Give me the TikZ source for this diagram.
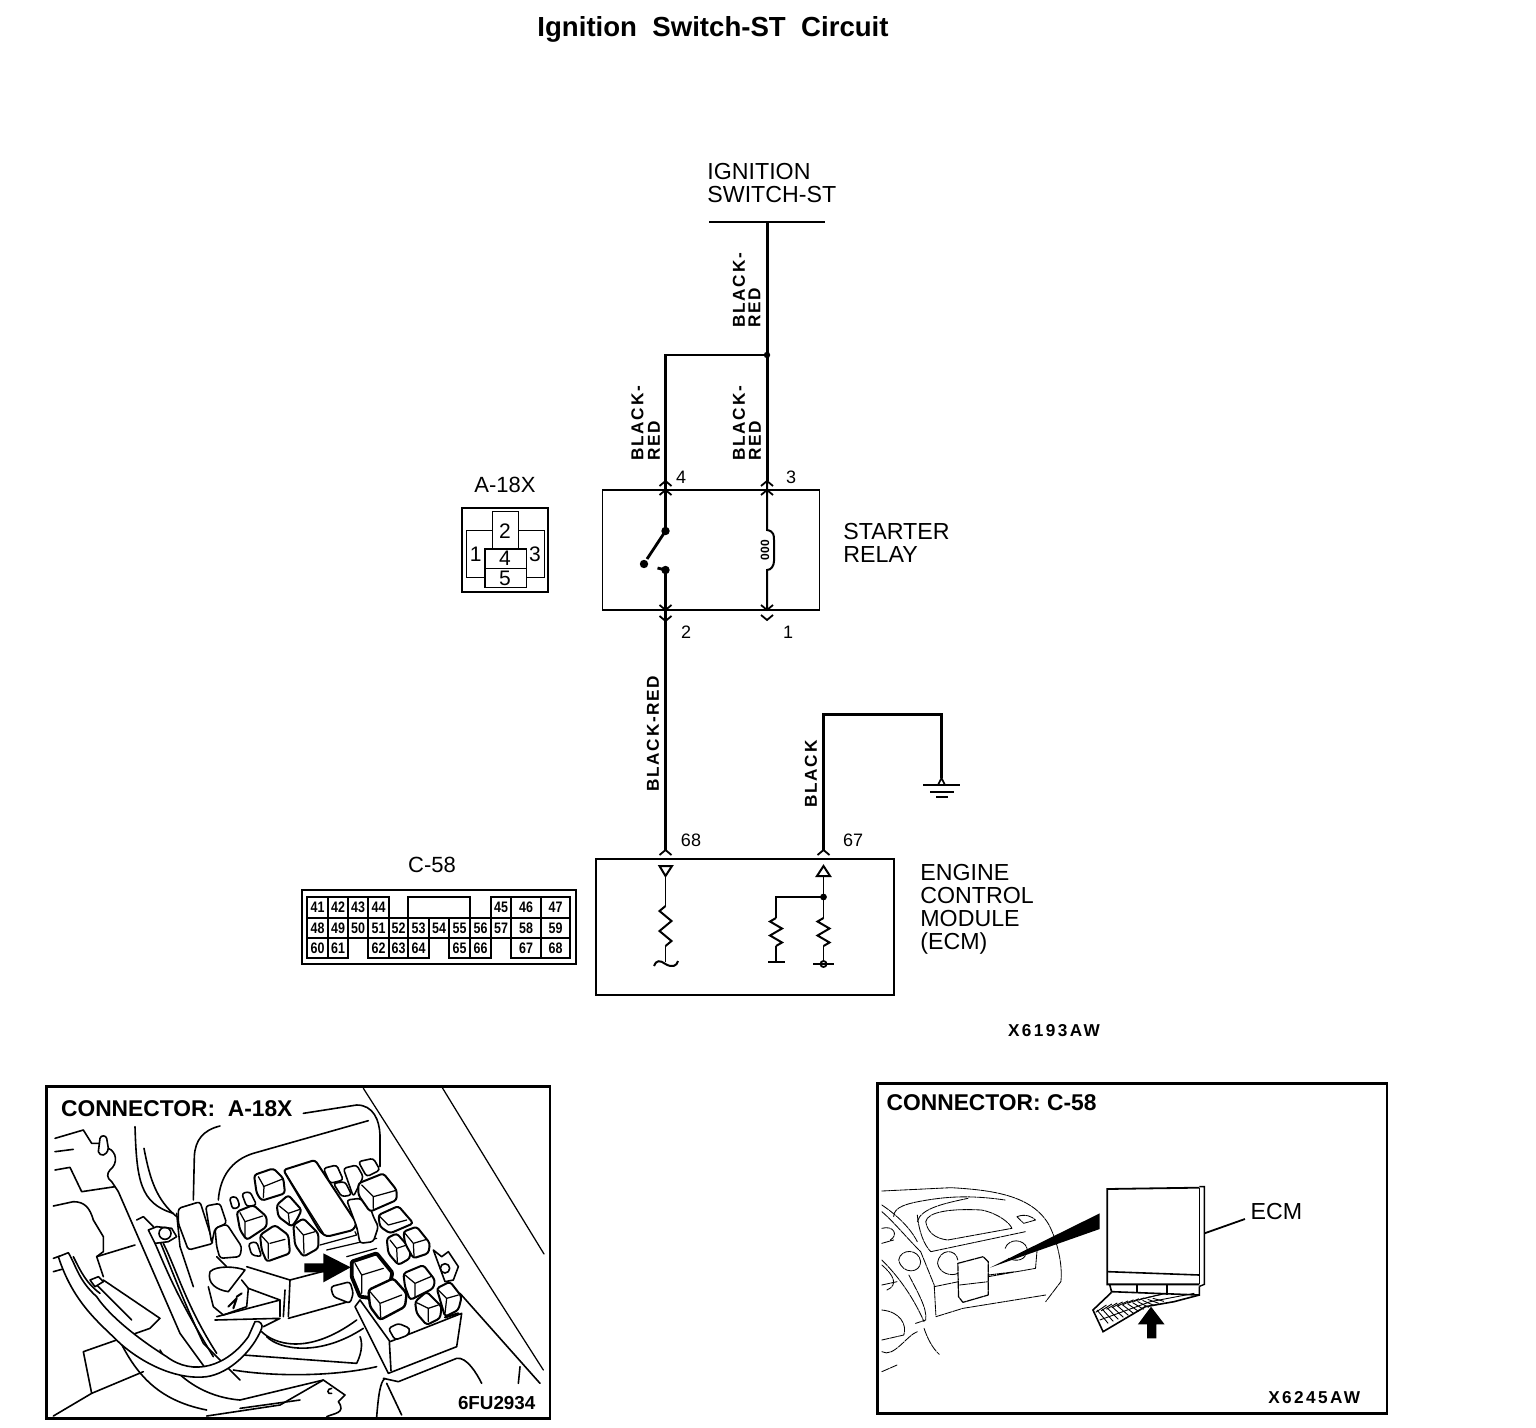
\documentclass[tikz,border=0pt]{standalone}
\usepackage{fontspec}
\setmainfont{Liberation Sans}
\usetikzlibrary{calc}
\newfontfamily\spacedfont[LetterSpace=10]{Liberation Sans}
\newfontfamily\codefont[LetterSpace=14]{Liberation Sans}
\tikzset{
 box/.style={draw=black,line width=.9pt,fill=none,rectangle,inner sep=0pt},
 wire/.style={line width=1.4pt,line join=miter},
 thinw/.style={line width=.9pt},
 lab/.style={font=\fontsize{11.6}{12}\selectfont,inner sep=0pt},
 labl/.style={lab,anchor=west},
 wirelab/.style={font=\spacedfont\bfseries\fontsize{8.6}{9}\selectfont,rotate=90,anchor=west,inner sep=0pt},
 pin/.style={font=\fontsize{9}{9}\selectfont,inner sep=0pt},
 cellt/.style={font=\bfseries\fontsize{7.6}{8}\selectfont,inner sep=0pt,xscale=.82},
 ln/.style={line width=.62pt,line join=round,line cap=round},
 hv/.style={line width=.8pt,line join=round,line cap=round},
 relaypart/.style={line width=.8pt,rounded corners=1.5pt,line join=round,fill=white},
 dashl/.style={line width=.42pt,line join=round,line cap=round,dash pattern=on 4pt off .5pt},
 caption/.style={font=\bfseries\fontsize{11.4}{12}\selectfont,inner sep=0pt},
 code/.style={font=\codefont\bfseries\fontsize{8.6}{9}\selectfont,inner sep=0pt},
 digit/.style={font=\fontsize{10.5}{11}\selectfont,inner sep=0pt},
}
\newcommand\chvup[2]{\draw[line width=.9pt] ({#1-6},{#2+5}) -- (#1,#2) -- ({#1+6},{#2+5});}
\newcommand\chvdn[2]{\draw[line width=.9pt] ({#1-6},{#2-5}) -- (#1,#2) -- ({#1+6},{#2-5});}
\newcommand\zig[3]{% x, top y, bottom y
 \draw[line width=1pt] (#1,#2) -- ({#1-6},{#2+.125*(#3-#2)}) -- ({#1+6},{#2+.375*(#3-#2)}) -- ({#1-6},{#2+.625*(#3-#2)}) -- ({#1+6},{#2+.875*(#3-#2)}) -- (#1,#3);}
\newcommand\cellbox[5]{\draw[line width=.65pt] (#1,#3) rectangle (#2,#4) node[midway,cellt,name=c#5]{#5};}
\begin{document}
\begin{tikzpicture}[x=.5pt,y=-.5pt]
\useasboundingbox (0,0) rectangle (1536,1428);
% ---------- titles
\node[font=\bfseries\fontsize{13.8}{14}\selectfont,inner sep=0pt] (title) at (713,29) {Ignition\ \ Switch-ST\ \ Circuit};
\node[labl] (ign1) at (707,172) {IGNITION};
\node[labl] (ign2) at (707,195) {SWITCH-ST};
% ---------- boxes
\node[box,minimum width=108.5pt,minimum height=60pt] (relay) at (711,550) {};
\node[box,minimum width=149pt,minimum height=68pt,line width=1pt] (ecm) at (745,927) {};
\node[labl] (st1) at (843,532) {STARTER};
\node[labl] (st2) at (843,555) {RELAY};
\node[labl] (e1) at (920,873) {ENGINE};
\node[labl] (e2) at (920,896) {CONTROL};
\node[labl] (e3) at (920,919) {MODULE};
\node[labl] (e4) at (920,943) {(ECM)};
% ---------- coordinates
\coordinate (busL) at (709,222);
\coordinate (busR) at (825,222);
\coordinate (busM) at (767,222);
\coordinate (jn) at (767,355);
\coordinate (jl) at (665.5,355);
\coordinate (p4) at (665.5,481);
\coordinate (p3) at (767,481);
\coordinate (sw1) at (665.5,531);
\coordinate (sw2) at (644,564);
\coordinate (sw3) at (665.5,570);
\coordinate (p2) at (665.5,620);
\coordinate (p1) at (767,610);
\coordinate (p68) at (665.5,850);
\coordinate (p67) at (823.5,850);
\coordinate (gt) at (823.5,714.5);
\coordinate (gr) at (941.5,714.5);
\coordinate (gb) at (941.5,778);
% ---------- wires
\draw[thinw] (busL) -- (busR);
\draw[wire,line width=1.5pt] (busM) -- (jn) -- (p3);
\draw[wire] (jn) -- (jl) -- (p4) -- (sw1);
\fill (jn) circle (3.2);
\fill (sw1) circle (4.2);
\fill (sw2) circle (4.2);
\fill (sw3) circle (4.2);
\draw[wire] (sw1) -- ($(sw2)+(3,-5)$);
\draw[wire] (sw3) -- ($(sw3)+(-8,-2)$);
\draw[wire] (sw3) -- (p2);
\draw[wire,line width=1.15pt] (p2) -- (p68);
\draw[wire,line width=1pt] (p3) -- (767,530) .. controls (774,531) and (774,536) .. (774,540) -- (774,561) .. controls (774,566) and (771,570) .. (767,570) -- (p1);
\node[font=\bfseries\fontsize{6}{6}\selectfont,rotate=90,inner sep=0pt] (coil) at (765,550) {000};
\chvup{665.5}{481}\chvup{665.5}{490}\chvup{767}{481}\chvup{767}{490}
\chvdn{665.5}{610}\chvdn{665.5}{621}\chvdn{767}{610}\chvdn{767}{620}
\draw[line width=1.1pt] (p67) -- (gt) -- (gr) -- (gb);
\draw[line width=.8pt] (gb) -- (938,785) -- (945,785) -- cycle;
\draw[line width=1.1pt] (923,785) -- (960,785) (930,792) -- (954,792) (936,797) -- (948,797);
% ECM interior
\chvup{665.5}{850}\chvup{823.5}{850}
\draw[line width=1pt] (659.5,866) -- (672,866) -- (665.5,876) -- cycle;
\draw[line width=1pt] (817,876) -- (830,876) -- (823.5,866) -- cycle;
\draw[thinw] (665.5,876) -- (665.5,906);
\zig{665.5}{906}{946}
\draw[thinw] (665.5,946) -- (665.5,962);
\draw[line width=1pt] (654,966) .. controls (656,960) and (660,960) .. (665.5,964) .. controls (672,968) and (677,966) .. (678,961);
\draw[thinw] (823.5,876) -- (823.5,918);
\fill (823.5,897) circle (3.4);
\draw[thinw] (823.5,897) -- (776,897) -- (776,918);
\zig{776}{918}{946}\zig{823.5}{918}{946}
\draw[thinw] (776,946) -- (776,962); \draw[line width=1.1pt] (768,962) -- (785,962);
\draw[thinw] (823.5,946) -- (823.5,961);
\draw[line width=.9pt] (823.5,964) circle (3); \draw[line width=.8pt] (813,964) -- (834,964);
% ---------- wire labels
\node[wirelab] (w1a) at (739,328) {BLACK-};
\node[wirelab] (w1b) at (754.5,328) {RED};
\node[wirelab] (w2a) at (637.5,461) {BLACK-};
\node[wirelab] (w2b) at (654,461) {RED};
\node[wirelab] (w3a) at (739,461) {BLACK-};
\node[wirelab] (w3b) at (755,461) {RED};
\node[wirelab] (w4) at (653,792) {BLACK-RED};
\node[wirelab] (w5) at (811,808) {BLACK};
\node[pin] (n4) at (681,477) {4};
\node[pin] (n3) at (791,477) {3};
\node[pin] (n2) at (686,632) {2};
\node[pin] (n1) at (788,632) {1};
\node[pin] (n68) at (691,840) {68};
\node[pin] (n67) at (853,840) {67};
% ---------- A-18X connector
\node[lab,font=\fontsize{11}{11}\selectfont] (a18) at (505,485) {A-18X};
\begin{scope}[shift={(440,460)},x=.16667pt,y=-.16667pt]
\draw[line width=1.1pt] (65,143) rectangle (325,395);
\draw[line width=.55pt] (157,211) -- (79,211) -- (79,353) -- (135,353);
\draw[line width=.55pt] (235,211) -- (313,211) -- (313,353) -- (259,353);
\draw[line width=.55pt] (157,267) -- (157,155) -- (235,155) -- (235,267);
\draw[line width=.75pt] (135,267) rectangle (259,325);
\draw[line width=.75pt] (135,325) rectangle (259,383);
\node[digit] (k2) at (195,212) {2};
\node[digit] (k1) at (107,284) {1};
\node[digit] (k3) at (285,284) {3};
\node[digit] (k4) at (195,294) {4};
\node[digit] (k5) at (195,356) {5};
\end{scope}
% ---------- C-58 connector
\node[lab,font=\fontsize{11}{11}\selectfont] (c58) at (432,865) {C-58};
\draw[line width=1.2pt] (302,890) rectangle (576,964);
\cellbox{307}{328}{897}{918}{41}\cellbox{328}{348}{897}{918}{42}\cellbox{348}{368}{897}{918}{43}\cellbox{368}{389}{897}{918}{44}
\draw[line width=.65pt] (408,897) rectangle (470,918);
\cellbox{491}{511}{897}{918}{45}\cellbox{511}{541}{897}{918}{46}\cellbox{541}{570}{897}{918}{47}
\cellbox{307}{328}{918}{938}{48}\cellbox{328}{348}{918}{938}{49}\cellbox{348}{368}{918}{938}{50}\cellbox{368}{389}{918}{938}{51}\cellbox{389}{408}{918}{938}{52}\cellbox{408}{429}{918}{938}{53}\cellbox{429}{449}{918}{938}{54}\cellbox{449}{470}{918}{938}{55}\cellbox{470}{491}{918}{938}{56}\cellbox{491}{511}{918}{938}{57}\cellbox{511}{541}{918}{938}{58}\cellbox{541}{570}{918}{938}{59}
\cellbox{307}{328}{938}{958}{60}\cellbox{328}{348}{938}{958}{61}\cellbox{368}{389}{938}{958}{62}\cellbox{389}{408}{938}{958}{63}\cellbox{408}{429}{938}{958}{64}\cellbox{449}{470}{938}{958}{65}\cellbox{470}{491}{938}{958}{66}\cellbox{511}{541}{938}{958}{67}\cellbox{541}{570}{938}{958}{68}
\node[code] (x1) at (1054,1031) {X6193AW};
% ---------- left inset
\begin{scope}[shift={(40,1080)},x=.16667pt,y=-.16667pt]
\draw[line width=1.3pt] (20,20) rectangle (1530,1015);
\node[caption,anchor=west] (capa) at (62,85) {CONNECTOR:\ \ A-18X};
\node[font=\bfseries\fontsize{9.4}{10}\selectfont,inner sep=0pt] (codea) at (1370,968) {6FU2934};
\draw[ln] (970,25) -- (1510,870);
\draw[ln] (1205,20) -- (1512,522);
\draw[hv] (790,100) -- (950,75) .. controls (1000,75) and (1018,120) .. (1020,165) -- (1020,260);
\draw[hv] (985,122) -- (640,220) .. controls (575,240) and (540,290) .. (535,360);
\draw[hv] (540,138) .. controls (490,150) and (465,180) .. (463,230) -- (460,360);
% left mechanical parts
\draw[hv] (45,175) -- (130,150) -- (155,190) -- (178,190);
\draw[hv] (180,175) .. controls (182,165) and (198,165) .. (200,175) -- (205,205) .. controls (200,230) and (180,230) .. (175,215) -- (180,175);
\draw[hv] (205,205) .. controls (230,215) and (235,250) .. (210,270) .. controls (200,280) and (200,295) .. (215,305) -- (235,335);
\draw[hv] (45,215) -- (100,208) (45,270) -- (90,262) -- (125,335) -- (225,320);
\draw[hv] (40,378) -- (100,365) .. controls (135,365) and (150,385) .. (160,420) -- (190,470) -- (190,515) -- (170,530) -- (190,590);
\draw[hv] (170,530) -- (285,495) (40,575) -- (65,568) (40,535) -- (60,528);
\draw[hv] (190,600) -- (360,715) -- (330,745) -- (130,815) -- (155,940) -- (40,1008);
\draw[hv] (155,940) -- (310,875);
% hoses
\draw[hv] (285,140) .. controls (290,300) and (300,370) .. (400,400);
\draw[hv] (312,205) .. controls (330,300) and (350,360) .. (410,410);
\draw[hv] (235,335) -- (320,530) -- (420,760) -- (500,870);
\draw[hv] (290,420) -- (310,410) -- (340,440) .. controls (370,500) and (410,620) .. (490,790) -- (600,900);
\draw[hv] (345,490) .. controls (380,570) and (410,650) .. (520,830);
\draw[hv] (370,490) .. controls (410,570) and (440,680) .. (530,820);
\draw[hv] (170,615) -- (275,720) (220,740) .. controls (280,880) and (350,960) .. (500,990);
\draw[hv] (360,810) .. controls (400,880) and (480,950) .. (600,960) -- (850,900) -- (915,945) -- (895,965) .. controls (920,1000) and (880,1000) .. (860,1010);
\draw[hv] (500,1008) -- (720,975) -- (850,900);
\draw[hv] (875,925) .. controls (860,925) and (860,945) .. (875,940);
\draw[hv] (600,985) -- (780,960);
% central block
\draw[hv] (620,560) -- (750,600) -- (865,570);
\draw[hv] (750,600) -- (745,710) (735,630) -- (730,710);
\draw[hv] (625,625) -- (720,660) -- (720,710);
\draw[hv] (720,660) -- (530,710) (525,720) -- (720,715) -- (670,740) (745,715) -- (925,665);
\draw[hv] (665,755) .. controls (700,790) and (800,830) .. (950,720);
\draw[hv] (680,770) .. controls (720,810) and (840,830) .. (970,745);
\draw[hv] (610,825) -- (950,850) .. controls (970,810) and (965,780) .. (960,770);
\draw[hv] (580,870) .. controls (700,890) and (880,890) .. (1010,860);
\draw[hv] (410,400) -- (420,500) -- (460,620) (530,530) -- (560,560);
\draw[hv,fill=white] (510,575) .. controls (530,555) and (590,560) .. (615,570) -- (565,635) .. controls (530,630) and (500,610) .. (510,575);
\draw[hv] (505,620) -- (520,680) -- (550,705) -- (620,680) -- (625,625) -- (605,600);
\draw[hv,line width=1pt] (565,680) -- (590,655) -- (580,685) (590,650) -- (605,640);
% the hose in front
\draw[hv,fill=white] (55,530) -- (85,518) .. controls (110,560) and (115,600) .. (170,650) .. controls (210,710) and (300,780) .. (380,830) .. controls (460,890) and (560,860) .. (625,770) -- (645,725) .. controls (660,720) and (670,735) .. (665,745) .. controls (640,810) and (570,880) .. (500,890) .. controls (420,900) and (320,860) .. (240,790) .. controls (180,730) and (100,670) .. (55,530);
\draw[hv] (100,530) .. controls (125,580) and (140,610) .. (180,640);
\draw[hv,fill=white] (150,600) -- (175,590) -- (190,605) -- (165,620) -- cycle;
\draw[hv,fill=white] (325,450) -- (350,440) -- (395,445) -- (410,470) -- (385,485) -- (345,490) -- cycle;
\draw[hv] (375,460) circle (18);
% front fuses
\draw[relaypart] (415,385) -- (480,365) -- (520,490) -- (445,510) -- (415,430) -- cycle;
\draw[relaypart] (497,378) -- (540,370) -- (560,430) -- (525,445) -- (515,490) -- cycle;
\draw[relaypart] (525,445) -- (560,432) -- (605,500) -- (600,530) -- (540,535) -- (530,500) -- cycle;
\draw[relaypart] (568,352) -- (590,350) -- (600,380) -- (578,388) -- cycle (605,340) -- (630,335) -- (650,375) -- (620,380) -- cycle;
\draw[relaypart] (625,490) -- (650,485) -- (665,530) -- (635,525) -- cycle;
% fuse-box relays
\draw[relaypart] (850,265) -- (890,255) -- (910,300) -- (870,310) -- cycle (880,310) -- (915,305) -- (935,345) -- (905,350) -- cycle;
\draw[relaypart] (910,265) -- (950,255) -- (970,290) -- (940,350) -- cycle (955,245) -- (1000,235) -- (1020,270) -- (980,290) -- cycle;
\draw[relaypart,line width=1pt] (730,270) -- (825,240) -- (950,430) -- (940,450) -- (860,470) -- (840,455) -- cycle;
\draw[ln] (735,278) -- (850,460) (840,495) -- (950,465) -- (945,455) (860,510) -- (1010,475) (920,530) -- (1010,505);
\draw[relaypart,line width=1pt] (642,285) -- (700,265) -- (730,295) -- (735,340) -- (665,362) -- (650,340) -- cycle;
\draw[ln] (670,320) -- (725,298) (655,290) -- (672,320) -- (670,352);
\draw[relaypart,line width=1pt] (590,395) -- (640,375) -- (680,410) -- (680,440) -- (620,480) -- (600,450) -- cycle;
\draw[ln] (615,425) -- (668,408) (600,398) -- (615,425) -- (615,470);
\draw[relaypart,line width=1pt] (710,375) -- (745,345) -- (785,390) -- (770,420) -- (755,440) -- (715,410) -- cycle;
\draw[ln] (745,400) -- (780,388) (718,378) -- (745,400) -- (748,430);
\draw[relaypart,line width=1pt] (660,465) -- (705,435) -- (745,465) -- (750,520) -- (680,545) -- (665,510) -- cycle;
\draw[ln] (690,490) -- (735,478) (665,468) -- (685,490) -- (685,535);
\draw[relaypart,line width=1pt] (760,435) -- (790,415) -- (835,460) -- (835,505) -- (790,530) -- (765,495) -- cycle;
\draw[ln] (790,465) -- (825,455) (768,440) -- (790,465) -- (792,520);
\draw[relaypart] (920,360) -- (960,355) -- (990,380) -- (1000,410) -- (1015,440) -- (1000,485) -- (960,490) -- (950,440) -- cycle;
\draw[relaypart,line width=1pt] (955,310) -- (1030,280) -- (1070,330) -- (1070,360) -- (990,395) -- (955,345) -- cycle;
\draw[ln] (1000,350) -- (1065,332) (965,315) -- (1000,350) -- (1000,385);
\draw[relaypart,line width=1pt] (1015,405) -- (1075,378) -- (1120,430) -- (1050,460) -- (1020,440) -- cycle;
\draw[ln] (1045,435) -- (1100,420) (1020,410) -- (1045,435);
% fuse box outline (behind its relays)
\draw[hv,fill=white] (945,680) -- (1045,880) -- (1250,800) -- (1265,700) -- (1050,785) -- (960,660) -- cycle;
\draw[hv,line width=1.1pt] (1215,712) -- (1255,700);
\draw[hv] (1048,785) -- (1053,872);
\draw[hv,fill=white] (1180,510) -- (1205,530) -- (1225,515) -- (1255,560) -- (1240,600) -- (1215,605) -- cycle;
\draw[hv] (1215,565) circle (14);
\draw[relaypart] (1045,745) -- (1075,730) -- (1110,745) -- (1105,765) -- (1065,780) -- cycle;
\draw[relaypart] (872,620) -- (930,605) -- (940,640) -- (930,670) -- (880,650) -- cycle;
\draw[relaypart,line width=1pt] (1040,475) -- (1070,460) -- (1110,505) -- (1110,535) -- (1075,555) -- (1045,520) -- cycle;
\draw[ln] (1070,505) -- (1100,495) (1050,480) -- (1070,505) -- (1072,545);
\draw[relaypart,line width=1pt] (1090,455) -- (1130,440) -- (1170,490) -- (1165,520) -- (1120,535) -- (1095,490) -- cycle;
\draw[ln] (1120,490) -- (1160,478) (1095,460) -- (1120,490) -- (1122,528);
\draw[relaypart,line width=1.9pt,rounded corners=.6pt] (935,545) -- (1010,520) -- (1057,578) -- (1040,660) -- (960,650) -- (935,590) -- cycle;
\draw[ln] (965,585) -- (1030,565) (945,550) -- (965,585) -- (965,640);
\draw[relaypart,line width=1pt] (1090,580) -- (1150,555) -- (1185,600) -- (1180,625) -- (1110,660) -- (1095,620) -- cycle;
\draw[ln] (1125,610) -- (1172,590) (1095,585) -- (1125,610) -- (1125,650);
\draw[relaypart,line width=1.2pt] (985,630) -- (1060,595) -- (1100,640) -- (1095,680) -- (1020,720) -- (990,680) -- cycle;
\draw[ln] (1020,670) -- (1085,645) (990,635) -- (1020,670) -- (1022,712);
\draw[relaypart,line width=1pt] (1190,625) -- (1230,605) -- (1265,650) -- (1255,690) -- (1215,710) -- cycle;
\draw[ln] (1220,655) -- (1255,645) (1195,630) -- (1220,655) -- (1215,700);
\draw[relaypart,line width=1pt] (1125,665) -- (1160,635) -- (1205,680) -- (1200,715) -- (1160,735) -- (1130,700) -- cycle;
\draw[ln] (1165,685) -- (1195,675) (1130,668) -- (1165,685) -- (1165,725);
\draw[hv] (1260,640) -- (1500,910);
\draw[hv] (1440,860) -- (1435,910);
\draw[hv] (1030,895) -- (1075,905) -- (1250,835) .. controls (1280,830) and (1310,880) .. (1325,910);
\draw[hv] (1035,895) .. controls (1020,905) and (1015,950) .. (1010,1010);
\draw[hv] (1040,910) -- (1085,1005);
% arrow
\fill (793,550) -- (850,550) -- (850,520) -- (932,562) -- (850,607) -- (850,577) -- (793,577) -- cycle;
\end{scope}
% ---------- right inset
\begin{scope}[shift={(870,1075)},x=.1689pt,y=-.16667pt]
\draw[line width=1.3pt] (22,25) rectangle (1530,1015);
\node[caption,anchor=west] (capc) at (48,82) {CONNECTOR:\ C-58};
\node[code] (codec) at (1315,968) {X6245AW};
\node[lab] (ecmt) at (1203,408) {ECM};
\draw[line width=.9pt] (975,338) -- (702,342) -- (702,628) -- (975,628);
\draw[line width=.45pt] (975,338) -- (975,628);
\draw[line width=.7pt] (975,335) -- (990,335) -- (990,628) -- (975,634);
\draw[line width=.8pt] (705,590) -- (975,600);
\draw[line width=.9pt] (990,475) -- (1110,432);
\fill (355,578) -- (680,415) -- (680,462) -- cycle;
\fill (832,695) -- (872,748) -- (848,748) -- (848,790) -- (820,790) -- (820,748) -- (793,748) -- cycle;
% plug under the module
\draw[line width=.8pt] (710,630) -- (715,650) -- (975,660) -- (975,634);
\draw[line width=.8pt] (790,630) -- (790,655) (880,630) -- (880,660);
\draw[line width=.8pt] (715,652) -- (660,705) -- (690,770) -- (815,695) -- (900,680) -- (975,660);
\foreach \k in {0,...,11} {
 \draw[line width=.45pt] ({672+\k*15},{705-\k*3.2}) -- ({705+\k*15},{745-\k*6});
 \draw[line width=.45pt] ({668+\k*16},{712-\k*4.6}) -- ({700+\k*16},{690-\k*3.1});
}
\draw[line width=.45pt] (680,735) -- (830,680) -- (960,655);
% dashboard
\draw[dashl] (35,348) -- (240,338) .. controls (360,345) and (480,360) .. (530,450) .. controls (560,510) and (570,580) .. (565,620) -- (520,680);
\draw[dashl] (70,425) .. controls (70,395) and (110,385) .. (170,375) .. controls (260,360) and (330,365) .. (400,375);
\draw[dashl] (140,440) .. controls (150,400) and (220,385) .. (290,370);
\draw[dashl] (165,440) .. controls (170,410) and (240,400) .. (330,405) .. controls (380,415) and (415,445) .. (420,460) -- (230,495) .. controls (190,490) and (170,470) .. (165,440);
\draw[dashl] (35,390) .. controls (80,420) and (120,460) .. (140,500) (140,420) .. controls (145,470) and (160,510) .. (180,530);
\draw[dashl] (180,530) -- (460,470) (435,425) .. controls (460,415) and (480,425) .. (490,435) -- (455,445) -- cycle;
\draw[dashl] (35,410) .. controls (70,440) and (110,490) .. (150,530) -- (190,630) -- (195,720);
\draw[dashl] (35,505) -- (70,495) (35,460) .. controls (70,450) and (85,480) .. (60,495);
\draw[dashl] (85,555) .. controls (90,520) and (145,520) .. (150,560) .. controls (150,595) and (95,600) .. (85,555);
\draw[dashl] (200,565) .. controls (205,520) and (255,520) .. (260,555) (200,565) .. controls (205,595) and (240,605) .. (260,595);
\draw[dashl] (400,520) .. controls (410,490) and (455,490) .. (465,520) .. controls (465,560) and (430,560) .. (410,550);
\draw[dashl,line width=.6pt] (260,565) -- (335,545) -- (350,560) -- (350,660) -- (275,682) -- (262,665) -- cycle;
\draw[dashl] (265,630) -- (350,620);
\draw[dashl] (190,635) -- (262,620) (350,605) -- (490,580) -- (495,520) (350,600) -- (430,590);
\draw[dashl] (195,725) -- (275,700) -- (520,660);
\draw[dashl] (35,555) .. controls (80,600) and (125,660) .. (160,740) (115,600) .. controls (140,650) and (170,700) .. (165,735) -- (135,745);
\draw[dashl] (35,630) -- (80,620) (35,570) .. controls (70,600) and (85,630) .. (50,645);
\draw[dashl] (35,705) .. controls (90,710) and (110,750) .. (100,780) -- (35,795);
\draw[dashl] (160,760) .. controls (170,790) and (185,820) .. (205,838) (35,830) .. controls (70,850) and (110,780) .. (140,770);
\draw[dashl] (35,890) -- (80,870);
\end{scope}
\end{tikzpicture}
\end{document}
